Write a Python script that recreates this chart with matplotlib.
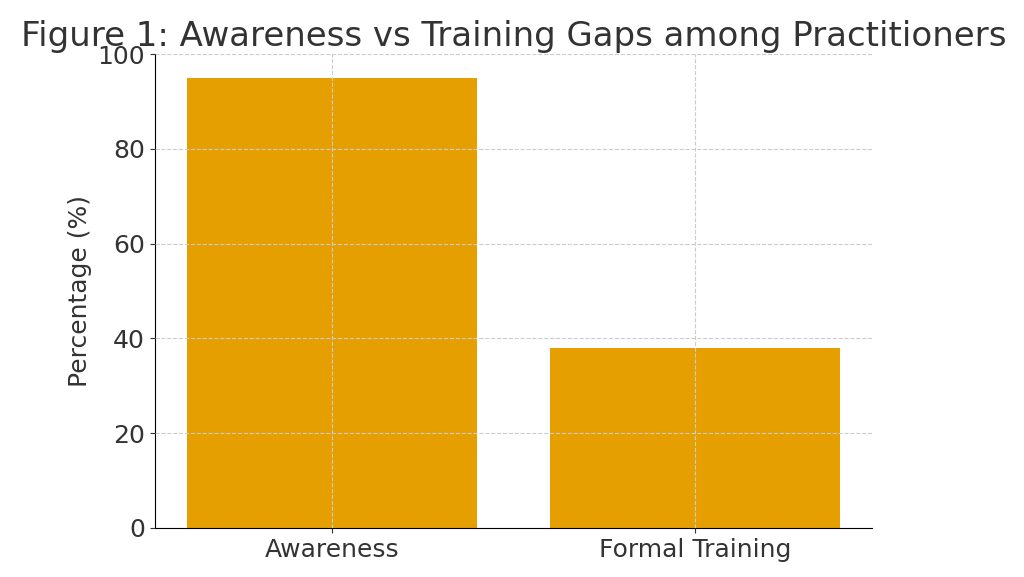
import matplotlib
matplotlib.use("Agg")
import matplotlib.pyplot as plt

categories = ["Awareness", "Formal Training"]
values = [95, 38]

plt.rcParams['font.family'] = ['DejaVu Sans']
fig = plt.figure(figsize=(10.24, 5.77), dpi=100)
ax = fig.add_axes([0.151, 0.085, 0.701, 0.821])
ax.bar(categories, values, width=0.8, color="#E69F00", zorder=1)
ax.set_ylim(0, 100)
ax.grid(True, linestyle="--", color="#cccccc", linewidth=0.8, zorder=2)
ax.set_axisbelow(False)
for s in ["top", "right"]:
    ax.spines[s].set_visible(False)
ax.tick_params(labelsize=18, colors="#333333")
ax.set_ylabel("Percentage (%)", fontsize=18, color="#333333")
ax.set_title("Figure 1: Awareness vs Training Gaps among Practitioners", fontsize=24.5, color="#333333", pad=6)
fig.savefig("out.png", dpi=100)
